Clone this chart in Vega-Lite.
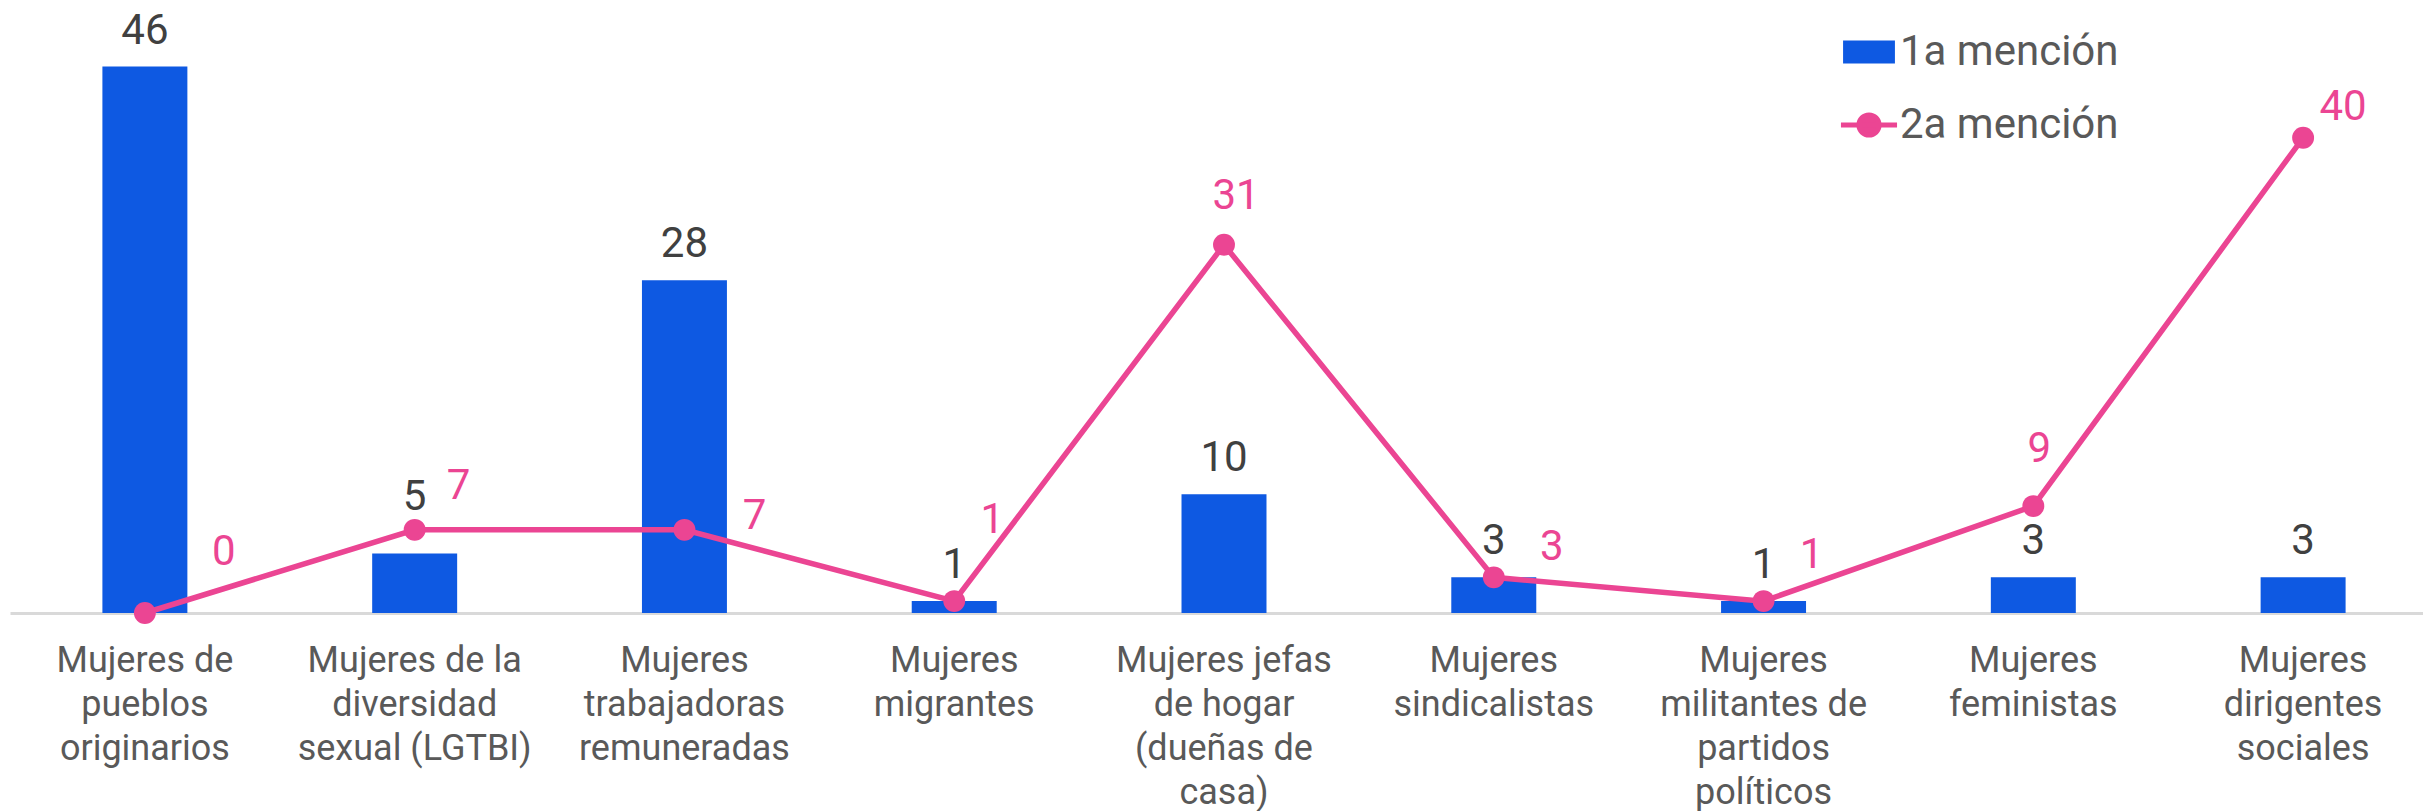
{
  "$schema": "https://vega.github.io/schema/vega-lite/v6.json",
  "width": 2413,
  "height": 594,
  "autosize": {"type": "none"},
  "padding": {"left": 10, "top": 19, "right": 0, "bottom": 198},
  "background": "white",
  "config": {"view": {"stroke": null}, "font": "Roboto"},
  "data": {"values": [
    {"categoria": "Mujeres de pueblos originarios", "serie": "1a mención", "valor": 46},
    {"categoria": "Mujeres de la diversidad sexual (LGTBI)", "serie": "1a mención", "valor": 5},
    {"categoria": "Mujeres trabajadoras remuneradas", "serie": "1a mención", "valor": 28},
    {"categoria": "Mujeres migrantes", "serie": "1a mención", "valor": 1},
    {"categoria": "Mujeres jefas de hogar (dueñas de casa)", "serie": "1a mención", "valor": 10},
    {"categoria": "Mujeres sindicalistas", "serie": "1a mención", "valor": 3},
    {"categoria": "Mujeres militantes de partidos políticos", "serie": "1a mención", "valor": 1},
    {"categoria": "Mujeres feministas", "serie": "1a mención", "valor": 3},
    {"categoria": "Mujeres dirigentes sociales", "serie": "1a mención", "valor": 3},
    {"categoria": "Mujeres de pueblos originarios", "serie": "2a mención", "valor": 0},
    {"categoria": "Mujeres de la diversidad sexual (LGTBI)", "serie": "2a mención", "valor": 7},
    {"categoria": "Mujeres trabajadoras remuneradas", "serie": "2a mención", "valor": 7},
    {"categoria": "Mujeres migrantes", "serie": "2a mención", "valor": 1},
    {"categoria": "Mujeres jefas de hogar (dueñas de casa)", "serie": "2a mención", "valor": 31},
    {"categoria": "Mujeres sindicalistas", "serie": "2a mención", "valor": 3},
    {"categoria": "Mujeres militantes de partidos políticos", "serie": "2a mención", "valor": 1},
    {"categoria": "Mujeres feministas", "serie": "2a mención", "valor": 9},
    {"categoria": "Mujeres dirigentes sociales", "serie": "2a mención", "valor": 40}
  ]},
  "encoding": {
    "x": {
      "field": "categoria", "type": "nominal", "sort": null,
      "scale": {"range": [0, 2428], "paddingInner": 0, "paddingOuter": 0},
      "axis": {
        "title": null, "labelAngle": 0, "ticks": false,
        "domainColor": "#D9D9D9", "domainWidth": 3,
        "labelFont": "Roboto", "labelFontSize": 36, "labelColor": "#595959",
        "labelLineHeight": 44, "labelPadding": 30, "labelBaseline": "top",
        "labelLimit": 0,
        "labelExpr": "{'Mujeres de pueblos originarios': ['Mujeres de','pueblos','originarios'], 'Mujeres de la diversidad sexual (LGTBI)': ['Mujeres de la','diversidad','sexual (LGTBI)'], 'Mujeres trabajadoras remuneradas': ['Mujeres','trabajadoras','remuneradas'], 'Mujeres migrantes': ['Mujeres','migrantes'], 'Mujeres jefas de hogar (dueñas de casa)': ['Mujeres jefas','de hogar','(dueñas de','casa)'], 'Mujeres sindicalistas': ['Mujeres','sindicalistas'], 'Mujeres militantes de partidos políticos': ['Mujeres','militantes de','partidos','políticos'], 'Mujeres feministas': ['Mujeres','feministas'], 'Mujeres dirigentes sociales': ['Mujeres','dirigentes','sociales']}[datum.value]"
      }
    },
    "y": {"field": "valor", "type": "quantitative", "scale": {"domain": [0, 50]}, "axis": null}
  },
  "layer": [
    {
      "transform": [{"filter": "datum.serie == '1a mención'"}],
      "mark": {"type": "bar", "width": {"band": 0.315}},
      "encoding": {
        "color": {
          "field": "serie", "type": "nominal",
          "scale": {"domain": ["1a mención", "2a mención"], "range": ["#0E59E2", "#EB4593"]},
          "legend": {
            "title": null, "orient": "none", "legendX": 1838, "legendY": 12,
            "labelFontSize": 42, "labelColor": "#595959", "labelFont": "Roboto",
            "labelLimit": 0,
            "symbolSize": 2800, "rowPadding": 31, "labelOffset": 10,
            "encode": {"symbols": {"update": {
              "shape": {"signal": "datum.value == '1a mención' ? 'M-0.98,-0.434H0.98V0.434H-0.98Z' : 'M-1.06,0H1.06M-0.38,0A0.38,0.38 0 1,0 0.38,0A0.38,0.38 0 1,0 -0.38,0'"},
              "fill": {"signal": "datum.value == '1a mención' ? '#0E59E2' : '#EB4593'"},
              "stroke": {"signal": "datum.value == '1a mención' ? '#0E59E2' : '#EB4593'"},
              "strokeWidth": {"signal": "datum.value == '1a mención' ? 0 : 5"},
              "opacity": {"value": 1}, "fillOpacity": {"value": 1}, "strokeOpacity": {"value": 1}
            }}}
          }
        }
      }
    },
    {
      "transform": [{"filter": "datum.serie == '2a mención'"}],
      "mark": {"type": "line", "strokeWidth": 5.5, "point": {"filled": true, "size": 480}},
      "encoding": {
        "color": {
          "field": "serie", "type": "nominal",
          "scale": {"domain": ["1a mención", "2a mención"], "range": ["#0E59E2", "#EB4593"]}
        }
      }
    },
    {
      "transform": [{"filter": "datum.serie == '1a mención' && datum.categoria != 'Mujeres de la diversidad sexual (LGTBI)'"}],
      "mark": {"type": "text", "baseline": "middle", "dy": -36, "fontSize": 42, "color": "#404040"},
      "encoding": {"text": {"field": "valor", "type": "quantitative"}}
    },
    {
      "transform": [{"filter": "datum.serie == '1a mención' && datum.categoria == 'Mujeres de la diversidad sexual (LGTBI)'"}],
      "mark": {"type": "text", "baseline": "middle", "dy": -57, "fontSize": 42, "color": "#404040"},
      "encoding": {"text": {"field": "valor", "type": "quantitative"}}
    },
    {
      "transform": [{"filter": "datum.serie == '2a mención' && datum.categoria == 'Mujeres de pueblos originarios'"}],
      "mark": {"type": "text", "baseline": "middle", "dx": 79, "dy": -61, "fontSize": 42, "color": "#EB4593"},
      "encoding": {"text": {"field": "valor", "type": "quantitative"}}
    },
    {
      "transform": [{"filter": "datum.serie == '2a mención' && datum.categoria == 'Mujeres de la diversidad sexual (LGTBI)'"}],
      "mark": {"type": "text", "baseline": "middle", "dx": 44, "dy": -44, "fontSize": 42, "color": "#EB4593"},
      "encoding": {"text": {"field": "valor", "type": "quantitative"}}
    },
    {
      "transform": [{"filter": "datum.serie == '2a mención' && datum.categoria == 'Mujeres trabajadoras remuneradas'"}],
      "mark": {"type": "text", "baseline": "middle", "dx": 70, "dy": -14, "fontSize": 42, "color": "#EB4593"},
      "encoding": {"text": {"field": "valor", "type": "quantitative"}}
    },
    {
      "transform": [{"filter": "datum.serie == '2a mención' && datum.categoria == 'Mujeres migrantes'"}],
      "mark": {"type": "text", "baseline": "middle", "dx": 38, "dy": -81, "fontSize": 42, "color": "#EB4593"},
      "encoding": {"text": {"field": "valor", "type": "quantitative"}}
    },
    {
      "transform": [{"filter": "datum.serie == '2a mención' && datum.categoria == 'Mujeres jefas de hogar (dueñas de casa)'"}],
      "mark": {"type": "text", "baseline": "middle", "dx": 12, "dy": -49, "fontSize": 42, "color": "#EB4593"},
      "encoding": {"text": {"field": "valor", "type": "quantitative"}}
    },
    {
      "transform": [{"filter": "datum.serie == '2a mención' && datum.categoria == 'Mujeres sindicalistas'"}],
      "mark": {"type": "text", "baseline": "middle", "dx": 58, "dy": -30, "fontSize": 42, "color": "#EB4593"},
      "encoding": {"text": {"field": "valor", "type": "quantitative"}}
    },
    {
      "transform": [{"filter": "datum.serie == '2a mención' && datum.categoria == 'Mujeres militantes de partidos políticos'"}],
      "mark": {"type": "text", "baseline": "middle", "dx": 48, "dy": -46, "fontSize": 42, "color": "#EB4593"},
      "encoding": {"text": {"field": "valor", "type": "quantitative"}}
    },
    {
      "transform": [{"filter": "datum.serie == '2a mención' && datum.categoria == 'Mujeres feministas'"}],
      "mark": {"type": "text", "baseline": "middle", "dx": 6, "dy": -57, "fontSize": 42, "color": "#EB4593"},
      "encoding": {"text": {"field": "valor", "type": "quantitative"}}
    },
    {
      "transform": [{"filter": "datum.serie == '2a mención' && datum.categoria == 'Mujeres dirigentes sociales'"}],
      "mark": {"type": "text", "baseline": "middle", "dx": 40, "dy": -31, "fontSize": 42, "color": "#EB4593"},
      "encoding": {"text": {"field": "valor", "type": "quantitative"}}
    }
  ]
}
